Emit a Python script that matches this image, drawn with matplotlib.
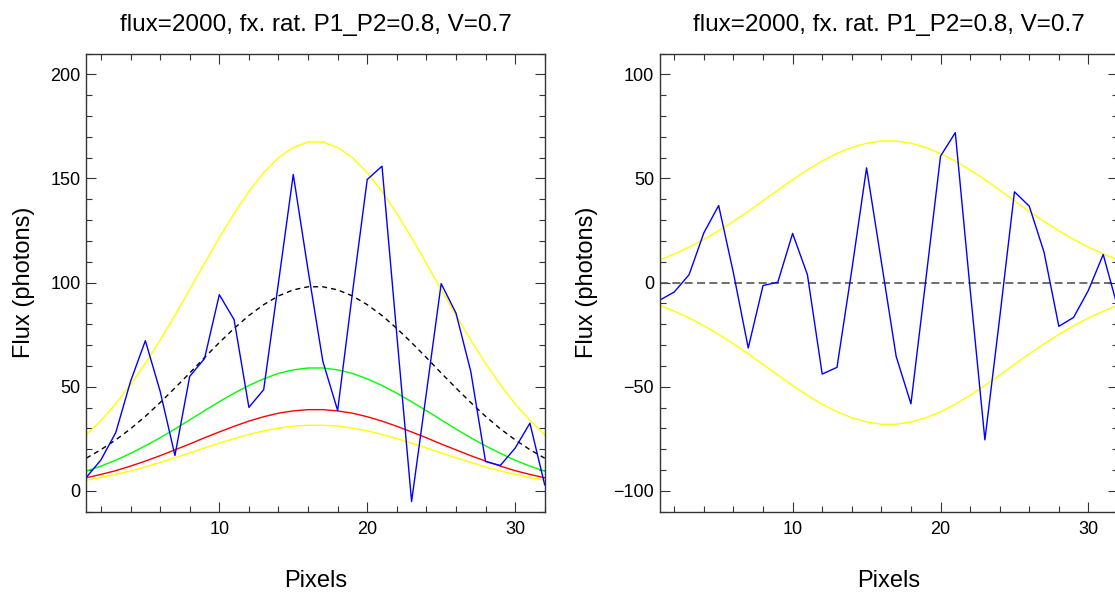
import matplotlib
matplotlib.use('Agg')
import matplotlib.pyplot as plt

plt.rcParams['font.family'] = ['Liberation Sans', 'DejaVu Sans']

# pixel index along the slit
pixels = list(range(1, 33))

# left panel: model curves
total_model = [15.7, 19.8, 24.5, 29.8, 35.8, 42.4, 49.4, 56.6, 64.0, 71.2, 78.0, 84.2, 89.4, 93.6, 96.5, 98.0,
               98.0, 96.5, 93.6, 89.4, 84.2, 78.0, 71.2, 64.0, 56.6, 49.4, 42.4, 35.8, 29.8, 24.5, 19.8, 15.7]
p1_model = [9.5, 11.9, 14.7, 18.0, 21.6, 25.5, 29.7, 34.1, 38.5, 42.8, 46.9, 50.6, 53.8, 56.4, 58.1, 59.0,
            59.0, 58.1, 56.4, 53.8, 50.6, 46.9, 42.8, 38.5, 34.1, 29.7, 25.5, 21.6, 18.0, 14.7, 11.9, 9.5]
p2_model = [6.3, 7.9, 9.7, 11.9, 14.3, 16.9, 19.7, 22.5, 25.5, 28.3, 31.0, 33.5, 35.6, 37.3, 38.4, 39.0,
            39.0, 38.4, 37.3, 35.6, 33.5, 31.0, 28.3, 25.5, 22.5, 19.7, 16.9, 14.3, 11.9, 9.7, 7.9, 6.3]
upper_env = [26.9, 33.8, 41.8, 51.0, 61.2, 72.4, 84.3, 96.7, 109.3, 121.6, 133.2, 143.8, 152.8, 160.0, 164.9, 167.5,
             167.5, 164.9, 160.0, 152.8, 143.8, 133.2, 121.6, 109.3, 96.7, 84.3, 72.4, 61.2, 51.0, 41.8, 33.8, 26.9]
lower_env = [5.1, 6.4, 7.9, 9.6, 11.5, 13.6, 15.9, 18.2, 20.6, 22.9, 25.1, 27.1, 28.8, 30.1, 31.1, 31.5,
             31.5, 31.1, 30.1, 28.8, 27.1, 25.1, 22.9, 20.6, 18.2, 15.9, 13.6, 11.5, 9.6, 7.9, 6.4, 5.1]
flux_obs = [6.4, 14.9, 28.0, 52.6, 72.1, 47.8, 17.0, 55.0, 63.5, 94.2, 82.2, 40.1, 48.6, 100.0, 151.9, 106.0,
            62.2, 38.6, 95.0, 149.5, 155.9, 75.0, -5.1, 47.0, 99.5, 85.4, 57.4, 14.1, 12.2, 20.5, 32.5, 2.9]

# right panel: residuals and fringe envelope
resid = [-8.5, -4.5, 3.8, 23.9, 37.0, 4.6, -31.4, -1.4, 0.2, 23.6, 3.8, -43.9, -40.7, 6.0, 55.1, 10.0,
         -35.4, -58.2, 1.0, 60.7, 72.0, -3.0, -75.5, -17.0, 43.6, 36.7, 14.6, -21.0, -16.7, -3.7, 13.5, -12.5]
fringe_hi = [10.9, 13.7, 17.0, 20.7, 24.9, 29.4, 34.2, 39.3, 44.4, 49.4, 54.1, 58.4, 62.0, 64.9, 66.9, 68.0,
             68.0, 66.9, 64.9, 62.0, 58.4, 54.1, 49.4, 44.4, 39.3, 34.2, 29.4, 24.9, 20.7, 17.0, 13.7, 10.9]
fringe_lo = [-10.9, -13.7, -17.0, -20.7, -24.9, -29.4, -34.2, -39.3, -44.4, -49.4, -54.1, -58.4, -62.0, -64.9, -66.9, -68.0,
             -68.0, -66.9, -64.9, -62.0, -58.4, -54.1, -49.4, -44.4, -39.3, -34.2, -29.4, -24.9, -20.7, -17.0, -13.7, -10.9]

title = 'flux=2000, fx. rat. P1_P2=0.8, V=0.7'

fig = plt.figure(figsize=(11.15, 5.97), dpi=100)
ax1 = fig.add_axes([86.2 / 1115, 85.3 / 597, 458.5 / 1115, 458.2 / 597])
ax2 = fig.add_axes([659.5 / 1115, 85.3 / 597, 458.5 / 1115, 458.2 / 597])

# left panel
ax1.plot(pixels, upper_env, color='#ffff00', lw=1.0)
ax1.plot(pixels, lower_env, color='#ffff00', lw=1.0)
ax1.plot(pixels, total_model, color='black', lw=1.0, dashes=(3.6, 2.9))
ax1.plot(pixels, p1_model, color='#00ff00', lw=1.0)
ax1.plot(pixels, p2_model, color='#ff0000', lw=1.0)
ax1.plot(pixels, flux_obs, color='#0000ff', lw=1.0)
ax1.set_ylim(-10, 210)
ax1.set_yticks([0, 50, 100, 150, 200])

# right panel
ax2.plot(pixels, fringe_hi, color='#ffff00', lw=1.0)
ax2.plot(pixels, fringe_lo, color='#ffff00', lw=1.0)
ax2.axhline(0, color='#555555', lw=1.2, dashes=(4.8, 2.6))
ax2.plot(pixels, resid, color='#0000ff', lw=1.0)
ax2.set_ylim(-110, 110)
ax2.set_yticks([-100, -50, 0, 50, 100])

for ax in (ax1, ax2):
    ax.set_xlim(1, 32)
    ax.set_xticks([10, 20, 30])
    ax.set_xticks(range(2, 33, 2), minor=True)
    ax.set_yticks(range(int(ax.get_ylim()[0]), int(ax.get_ylim()[1]) + 1, 10), minor=True)
    ax.tick_params(which='both', direction='in', top=True, right=True,
                   width=0.8, color='#333333', labelsize=13)
    ax.tick_params(which='major', length=7)
    ax.tick_params(which='minor', length=4.3)
    ax.tick_params(axis='x', pad=7)
    ax.tick_params(axis='y', pad=4)
    for s in ax.spines.values():
        s.set_color('#333333')
        s.set_linewidth(1.0)
    ax.set_title(title, fontsize=17.5, pad=16.5)
    ax.set_xlabel('Pixels', fontsize=17, labelpad=23)
    ax.set_ylabel('Flux (photons)', fontsize=17, labelpad=11)

plt.savefig('out.png', dpi=100)
